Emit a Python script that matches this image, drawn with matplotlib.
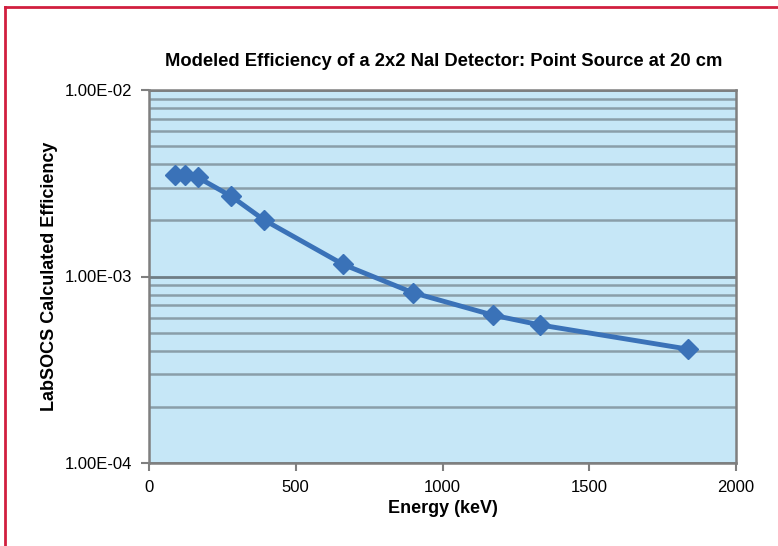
import matplotlib
matplotlib.use('Agg')
import matplotlib.pyplot as plt
import matplotlib.ticker as mticker
from matplotlib.lines import Line2D

# data
energy_kev = [88, 122, 166, 279, 392, 662, 898, 1173, 1332, 1836]
efficiency = [3.50e-3, 3.48e-3, 3.40e-3, 2.70e-3, 2.01e-3, 1.16e-3,
              8.2e-4, 6.2e-4, 5.5e-4, 4.08e-4]
x_ticks = [0, 500, 1000, 1500, 2000]
y_ticks = [1e-4, 1e-3, 1e-2]
y_tick_labels = ['1.00E-04', '1.00E-03', '1.00E-02']

title = 'Modeled Efficiency of a 2x2 NaI Detector: Point Source at 20 cm'
x_label = 'Energy (keV)'
y_label = 'LabSOCS Calculated Efficiency'

plt.rcParams['font.family'] = ['Liberation Sans Narrow', 'Liberation Sans', 'DejaVu Sans']

fig = plt.figure(figsize=(7.78, 5.46), dpi=100)
ax = fig.add_axes([149/778, 1 - 463/546, (736 - 149)/778, (463 - 90)/546])
ax.set_facecolor('#c6e7f7')

ax.plot(energy_kev, efficiency, color='#3a72b8', lw=3.5, marker='D',
        markersize=10, markeredgecolor='#3a72b8', markerfacecolor='#3a72b8',
        zorder=3, clip_on=False)

ax.set_yscale('log')
ax.set_xlim(0, 2000)
ax.set_ylim(1e-4, 1e-2)
ax.set_xticks(x_ticks)
ax.set_yticks(y_ticks)
ax.set_yticklabels(y_tick_labels)
ax.yaxis.set_minor_locator(mticker.LogLocator(base=10, subs=range(2, 10)))
ax.yaxis.set_minor_formatter(mticker.NullFormatter())

ax.grid(True, axis='y', which='minor', color='#8a9ea9', lw=1.8)
ax.grid(True, axis='y', which='major', color='#6f7d85', lw=2)
ax.set_axisbelow(True)
ax.tick_params(axis='y', which='minor', length=0)
ax.tick_params(axis='both', which='major', length=6, width=1.5, color='#7f7f7f',
               labelsize=12)
ax.tick_params(axis='y', pad=6)
ax.tick_params(axis='x', pad=6)

for side in ['left', 'bottom', 'right', 'top']:
    ax.spines[side].set_color('#7f7f7f')
    ax.spines[side].set_linewidth(1.8)

ax.set_xlabel(x_label, fontsize=13, fontweight='bold', labelpad=4)
ax.set_ylabel(y_label, fontsize=13, fontweight='bold', labelpad=5)

fig.text(444/778, 1 - 62/546, title, ha='center', va='center',
         fontsize=13.2, fontweight='bold')

# red frame (top and left edges only)
red = '#d11f3f'
fig.add_artist(Line2D([5/778, 1], [1 - 7/546, 1 - 7/546], color=red, lw=2,
                      transform=fig.transFigure))
fig.add_artist(Line2D([5/778, 5/778], [0, 1 - 7/546], color=red, lw=2,
                      transform=fig.transFigure))

fig.savefig('out.png', dpi=100)
